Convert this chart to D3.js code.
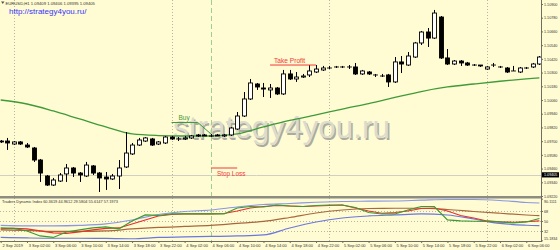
<!DOCTYPE html>
<html lang="en">
<head>
<meta charset="utf-8">
<title>EURUSD H1</title>
<script src="https://d3js.org/d3.v7.min.js"></script>
<style>
body { margin: 0; background: #fffbd2; }
svg { display: block; font-family: Arial, "Liberation Sans", sans-serif; }
</style>
</head>
<body>
<script>
"use strict";

// EURUSD H1 candles, 2 Sep 22:00 .. 6 Sep 08:00
let open = [1.09701,1.09701,1.09675,1.09693,1.09666,1.09640,1.09535,1.09395,1.09316,1.09351,
    1.09413,1.09465,1.09421,1.09395,1.09483,1.09421,1.09386,1.09369,1.09395,1.09474,
    1.09588,1.09666,1.09701,1.09719,1.09675,1.09684,1.09736,1.09719,1.09719,1.09728,
    1.09754,1.09754,1.09745,1.09754,1.09745,1.09754,1.09806,1.09920,1.10069,1.10200,
    1.10165,1.10148,1.10165,1.10113,1.10288,1.10244,1.10261,1.10279,1.10305,1.10323,
    1.10340,1.10349,1.10349,1.10349,1.10349,1.10288,1.10305,1.10279,1.10270,1.10279,
    1.10218,1.10393,1.10366,1.10436,1.10559,1.10655,1.10602,1.10786,1.10428,1.10375,
    1.10401,1.10384,1.10366,1.10366,1.10331,1.10366,1.10349,1.10340,1.10314,1.10305,
    1.10340,1.10349,1.10375];
let high = [1.09710,1.09728,1.09701,1.09701,1.09684,1.09649,1.09544,1.09404,1.09378,1.09421,
    1.09500,1.09474,1.09430,1.09518,1.09491,1.09430,1.09430,1.09413,1.09535,1.09780,
    1.09684,1.09728,1.09736,1.09728,1.09701,1.09745,1.09745,1.09736,1.09745,1.09754,
    1.09763,1.09763,1.09763,1.09763,1.09763,1.09824,1.09955,1.10130,1.10244,1.10209,
    1.10209,1.10200,1.10174,1.10323,1.10323,1.10305,1.10288,1.10366,1.10366,1.10358,
    1.10358,1.10358,1.10358,1.10366,1.10384,1.10323,1.10314,1.10288,1.10288,1.10288,
    1.10436,1.10445,1.10480,1.10568,1.10664,1.10690,1.10848,1.10795,1.10506,1.10410,
    1.10410,1.10393,1.10375,1.10366,1.10358,1.10384,1.10358,1.10349,1.10358,1.10349,
    1.10349,1.10384,1.10445];
let low = [1.09684,1.09623,1.09666,1.09666,1.09640,1.09518,1.09343,1.09308,1.09308,1.09343,
    1.09343,1.09386,1.09343,1.09386,1.09404,1.09255,1.09273,1.09360,1.09281,1.09465,
    1.09579,1.09658,1.09693,1.09658,1.09666,1.09675,1.09710,1.09701,1.09710,1.09719,
    1.09736,1.09745,1.09736,1.09745,1.09736,1.09745,1.09798,1.09911,1.10060,1.10148,
    1.10086,1.10078,1.10104,1.10104,1.10235,1.10218,1.10253,1.10261,1.10296,1.10314,
    1.10331,1.10340,1.10340,1.10331,1.10279,1.10279,1.10279,1.10261,1.10261,1.10174,
    1.10209,1.10296,1.10358,1.10428,1.10541,1.10524,1.10594,1.10419,1.10366,1.10366,
    1.10358,1.10358,1.10358,1.10349,1.10323,1.10349,1.10340,1.10296,1.10314,1.10296,
    1.10331,1.10340,1.10366];
let close = [1.09693,1.09684,1.09693,1.09675,1.09649,1.09535,1.09421,1.09316,1.09360,1.09404,
    1.09465,1.09421,1.09404,1.09491,1.09421,1.09378,1.09369,1.09395,1.09465,1.09596,
    1.09666,1.09710,1.09728,1.09666,1.09693,1.09736,1.09719,1.09719,1.09728,1.09745,
    1.09745,1.09745,1.09745,1.09745,1.09754,1.09815,1.09920,1.10069,1.10209,1.10174,
    1.10156,1.10165,1.10113,1.10288,1.10244,1.10261,1.10270,1.10314,1.10331,1.10340,
    1.10340,1.10349,1.10349,1.10349,1.10288,1.10314,1.10288,1.10279,1.10270,1.10218,
    1.10393,1.10375,1.10445,1.10559,1.10655,1.10602,1.10821,1.10428,1.10375,1.10401,
    1.10384,1.10366,1.10366,1.10358,1.10349,1.10366,1.10349,1.10305,1.10314,1.10340,
    1.10340,1.10375,1.10436];

// moving average (green), read every 4th bar
let maBars = [0,4,8,12,16,20,24,28,32,36,40,44,48,52,56,60,64,68,72,76,80,82];
let maValues = [1.10060,1.10025,1.09964,1.09894,1.09824,1.09763,1.09749,1.09745,1.09745,1.09763,
    1.09824,1.09881,1.09929,1.09981,1.10029,1.10082,1.10134,1.10174,1.10200,1.10224,1.10244,1.10253];

// Traders Dynamic Index
let tdiFineBars = [0,2,4,6,8,10,12,14,16,18,20,22,24,26,28,30,32,34,36,38,40,
    42,44,46,48,50,52,54,56,58,60,62,64,66,68,70,72,74,76,78,80,82];
let tdiRsi = [37.4,36.5,32,23,20.3,30.2,33.8,37.4,39.2,35.6,50,60.8,59.9,62.6,62.6,62.6,62.6,62.6,73.4,76.1,75.2,
    78.8,77,76.1,77.9,78.8,78.8,74.3,65.3,62.6,62.6,69.8,76.1,76.1,51.8,50,49.5,49.1,48.2,46.4,48.2,54.5];
let tdiSignal = [35.6,36.5,35.6,32,28.4,27.5,30.2,33.8,36.5,37.4,44.6,51.8,59,61.7,62.6,62.6,62.6,63.5,68,73.4,76.1,
    77.9,77,76.1,77,77.9,78.8,73.4,68,63.9,65.3,68,72.5,73.4,68,59.9,55.4,50,48.2,47.7,48.6,50];
let tdiCoarseBars = [0,4,8,12,16,20,24,28,32,36,40,44,48,52,56,60,64,68,72,76,80,82];
let tdiUpper = [41.9,41,41,41.9,44.6,51.8,61.7,67.1,69.8,75.2,79.7,81.5,83.7,85.1,85.6,86,87.4,88.7,88.7,86.9,83.3,82.4];
let tdiBase = [33.8,32.9,31.1,31.1,32,35.6,38.3,40.1,41.9,45.5,49.1,56.3,64.4,69.8,72.5,72.9,72.9,70.7,67.1,63.9,60.8,59.5];
let tdiLower = [20.3,19.4,18.9,18.9,18.5,18,20.3,21.2,22.1,23,24.8,37.4,48.2,55.4,59,60.8,62.6,60.8,53.6,45.5,42.3,41.5];

let priceTicks = [1.10900,1.10780,1.10660,1.10540,1.10420,1.10300,1.10180,1.10060,1.09940,1.09820,
    1.09700,1.09580,1.09460,1.09340,1.09220];
let tdiTicks = [90.1111,68,50,32,15.1834];
let tdiLevels = [68,50,32];
let bidPrice = 1.09405;

// trade marks drawn on the chart
let buyLine = {from: 26, to: 30, entry: 32, price: 1.09863, entryPrice: 1.09763};
let takeProfit = {from: 41, to: 48, price: 1.10366};
let stopLoss = {from: 32, to: 36, price: 1.09465};
let entryBar = 32;

let headerText = "EURUSD,H1  1.09409 1.09406 1.09395 1.09405";
let tdiText = "Traders Dynamic Index 60.3619 44.9612 29.5804 55.6147 57.1973";

let w = 560, h = 250;
let chartRight = 541;
let mainBottom = 196.5, subTop = 198.5, subBottom = 241;
let bg = "#fffbd2";

let start = new Date(2019, 8, 2, 22);
let times = d3.timeHour.range(start, d3.timeHour.offset(start, open.length));
let bars = times.map(function(t, i) {
    return {t: t, o: open[i], h: high[i], l: low[i], c: close[i]};
});

let x = d3.scaleLinear().domain([0, bars.length - 1]).range([0.7, 539.4]);
let y = d3.scaleLinear().domain([1.09220, 1.10900]).range([196, 4]);
let ys = d3.scaleLinear().domain([15.1834, 90.1111]).range([240.3, 198.7]);

let svg = d3.select("body").append("svg")
    .attr("width", w)
    .attr("height", h);

svg.append("rect").attr("width", w).attr("height", h).attr("fill", bg);

// day separators (dotted)
let dayBars = d3.range(bars.length).filter(function(i) { return times[i].getHours() === 0; });
svg.selectAll(".vgrid")
    .data(dayBars)
    .enter()
    .append("line")
    .attr("x1", function(d) { return Math.round(x(d)) + 0.5; })
    .attr("x2", function(d) { return Math.round(x(d)) + 0.5; })
    .attr("y1", 0)
    .attr("y2", subBottom)
    .style("stroke", "#a4a498")
    .style("stroke-width", 0.8)
    .style("stroke-dasharray", "1,2");

// watermark
let wm = svg.append("g");
wm.append("text")
    .attr("x", 174.5).attr("y", 139.5)
    .style("font-size", "31.5px")
    .style("fill", "#acab9e")
    .text("strategy4you.ru");
wm.append("text")
    .attr("x", 173).attr("y", 138)
    .style("font-size", "31.5px")
    .style("fill", "#dcdccc")
    .text("strategy4you.ru");

// bid line
svg.append("line")
    .attr("x1", 0).attr("x2", chartRight)
    .attr("y1", Math.round(y(bidPrice)) + 0.5).attr("y2", Math.round(y(bidPrice)) + 0.5)
    .style("stroke", "#cfcfc4").style("stroke-width", 1);

// moving average
let maLine = d3.line()
    .x(function(d) { return x(d[0]); })
    .y(function(d) { return y(d[1]); })
    .curve(d3.curveMonotoneX);
svg.append("path")
    .datum(maBars.map(function(b, i) { return [b, maValues[i]]; }))
    .attr("d", maLine)
    .style("fill", "none")
    .style("stroke", "#3f9a3a")
    .style("stroke-width", 1.3);

// entry marker (dashed vertical)
svg.append("line")
    .attr("x1", Math.round(x(entryBar)) + 0.5).attr("x2", Math.round(x(entryBar)) + 0.5)
    .attr("y1", 0).attr("y2", subBottom)
    .style("stroke", "#9fcf8f")
    .style("stroke-width", 1)
    .style("stroke-dasharray", "5,3");

// candles
let candles = svg.selectAll(".candle")
    .data(bars)
    .enter()
    .append("g");

candles.append("line")
    .attr("x1", function(d, i) { return Math.round(x(i)) + 0.5; })
    .attr("x2", function(d, i) { return Math.round(x(i)) + 0.5; })
    .attr("y1", function(d) { return y(d.h); })
    .attr("y2", function(d) { return y(d.l); })
    .style("stroke", "#000")
    .style("stroke-width", 1);

candles.append("rect")
    .attr("x", function(d, i) { return Math.round(x(i)) - 1.5; })
    .attr("width", 4)
    .attr("y", function(d) { return y(Math.max(d.o, d.c)); })
    .attr("height", function(d) { return Math.max(0.01, Math.abs(y(d.o) - y(d.c))); })
    .style("fill", function(d) { return d.c >= d.o ? "#ffffff" : "#000000"; })
    .style("stroke", "#000")
    .style("stroke-width", 0.9);

// trade lines
svg.append("path")
    .attr("d", d3.line()([
        [x(buyLine.from), y(buyLine.price)],
        [x(buyLine.to), y(buyLine.price)],
        [x(buyLine.entry), y(buyLine.entryPrice)]
    ]))
    .style("fill", "none")
    .style("stroke", "#3f9a3a")
    .style("stroke-width", 1);
svg.append("text")
    .attr("x", x(buyLine.from) + 7).attr("y", y(buyLine.price) - 2.5)
    .style("font-size", "6.5px").style("fill", "#3f9a3a")
    .text("Buy");

svg.append("line")
    .attr("x1", x(takeProfit.from)).attr("x2", x(takeProfit.to))
    .attr("y1", y(takeProfit.price)).attr("y2", y(takeProfit.price))
    .style("stroke", "#f03a3a").style("stroke-width", 1);
svg.append("text")
    .attr("x", x(takeProfit.from) + 4).attr("y", y(takeProfit.price) - 2.5)
    .style("font-size", "6.6px").style("fill", "#f03a3a")
    .text("Take Profit");

svg.append("line")
    .attr("x1", x(stopLoss.from)).attr("x2", x(stopLoss.to))
    .attr("y1", y(stopLoss.price)).attr("y2", y(stopLoss.price))
    .style("stroke", "#f03a3a").style("stroke-width", 1);
svg.append("text")
    .attr("x", x(stopLoss.from) + 6).attr("y", y(stopLoss.price) + 7.5)
    .style("font-size", "6.4px").style("fill", "#f03a3a")
    .text("Stop Loss");

// header texts
svg.append("path")
    .attr("d", "M1,1.5 L4.5,1.5 L2.75,4 Z")
    .style("fill", "#555");
svg.append("text")
    .attr("x", 5.5).attr("y", 4.5)
    .style("font-size", "4.2px").style("fill", "#333")
    .text(headerText);
svg.append("text")
    .attr("x", 9).attr("y", 13.5)
    .style("font-size", "8px").style("fill", "#3535ff")
    .text("http://strategy4you.ru/");

// separator between chart and indicator window
svg.append("rect")
    .attr("x", 0).attr("y", mainBottom - 0.5)
    .attr("width", chartRight).attr("height", 2.5)
    .style("fill", "#8c8c80");

// TDI window
svg.selectAll(".level")
    .data(tdiLevels)
    .enter()
    .append("line")
    .attr("x1", 0).attr("x2", chartRight)
    .attr("y1", function(d) { return Math.round(ys(d)) + 0.5; })
    .attr("y2", function(d) { return Math.round(ys(d)) + 0.5; })
    .style("stroke", "#a4a498")
    .style("stroke-width", 0.8)
    .style("stroke-dasharray", "1,2");

let tdiLine = d3.line()
    .x(function(d) { return x(d[0]); })
    .y(function(d) { return ys(d[1]); });

let tdiSeries = [
    {bars: tdiCoarseBars, values: tdiUpper, color: "#8a97e6"},
    {bars: tdiCoarseBars, values: tdiLower, color: "#6a78e0"},
    {bars: tdiCoarseBars, values: tdiBase, color: "#a8683c"},
    {bars: tdiFineBars, values: tdiSignal, color: "#e8302c"},
    {bars: tdiFineBars, values: tdiRsi, color: "#3c9a36"}
];
svg.selectAll(".tdi")
    .data(tdiSeries)
    .enter()
    .append("path")
    .attr("d", function(s) {
        return tdiLine.curve(s.bars === tdiCoarseBars ? d3.curveMonotoneX : d3.curveLinear)(
            s.bars.map(function(b, i) { return [b, s.values[i]]; }));
    })
    .style("fill", "none")
    .style("stroke", function(s) { return s.color; })
    .style("stroke-width", 1.2);

svg.append("text")
    .attr("x", 2).attr("y", 203)
    .style("font-size", "3.9px").style("fill", "#333")
    .text(tdiText);

// frame: bottom and right axis lines
svg.append("line")
    .attr("x1", 0).attr("x2", chartRight)
    .attr("y1", subBottom + 0.5).attr("y2", subBottom + 0.5)
    .style("stroke", "#6e6e64").style("stroke-width", 1);
svg.append("line")
    .attr("x1", chartRight + 0.5).attr("x2", chartRight + 0.5)
    .attr("y1", 0).attr("y2", subBottom + 1)
    .style("stroke", "#6e6e64").style("stroke-width", 1);

// price axis
let priceAxis = svg.append("g")
    .attr("transform", "translate(" + (chartRight + 0.5) + ",0)")
    .call(d3.axisRight(y).tickValues(priceTicks).tickFormat(d3.format(".5f")).tickSize(1.5).tickPadding(1));
priceAxis.select(".domain").remove();
priceAxis.selectAll("text").style("font-size", "3.7px").style("fill", "#333");
priceAxis.selectAll("line").style("stroke", "#6e6e64");

// bid label
svg.append("rect")
    .attr("x", chartRight + 1).attr("y", y(bidPrice) - 2.6)
    .attr("width", 17).attr("height", 5.2)
    .style("fill", "#000");
svg.append("text")
    .attr("x", chartRight + 3).attr("y", y(bidPrice) + 1.3)
    .style("font-size", "3.7px").style("fill", "#fff")
    .text(d3.format(".5f")(bidPrice));

// TDI axis
let tdiAxis = svg.append("g")
    .attr("transform", "translate(" + (chartRight + 0.5) + ",0)")
    .call(d3.axisRight(ys).tickValues(tdiTicks)
        .tickFormat(function(d) { return Number.isInteger(d) ? String(d) : d3.format(".4f")(d); })
        .tickSize(1.5).tickPadding(1));
tdiAxis.select(".domain").remove();
tdiAxis.selectAll("text").style("font-size", "3.7px").style("fill", "#333");
tdiAxis.selectAll("line").style("stroke", "#6e6e64");
tdiAxis.selectAll(".tick").filter(function(d) { return d === 90.1111; })
    .select("text").attr("dy", "0.9em");
tdiAxis.selectAll(".tick").filter(function(d) { return d === 15.1834; })
    .select("text").attr("dy", "-0.1em");

// time axis
let timeTicks = d3.range(0, bars.length, 4);
let fmtDay = d3.timeFormat("%-d %b %Y");
let fmtHour = d3.timeFormat("%-d %b %H:%M");
let timeAxis = svg.append("g")
    .attr("transform", "translate(0," + (subBottom + 0.5) + ")")
    .call(d3.axisBottom(x).tickValues(timeTicks)
        .tickFormat(function(i) { return i === 0 ? fmtDay(times[i]) : fmtHour(times[i]); })
        .tickSize(1.5).tickPadding(1));
timeAxis.select(".domain").remove();
timeAxis.selectAll("text")
    .attr("text-anchor", "start")
    .attr("dx", "0.3em")
    .style("font-size", "4px").style("fill", "#333");
timeAxis.selectAll("line").style("stroke", "#6e6e64");
</script>
</body>
</html>
